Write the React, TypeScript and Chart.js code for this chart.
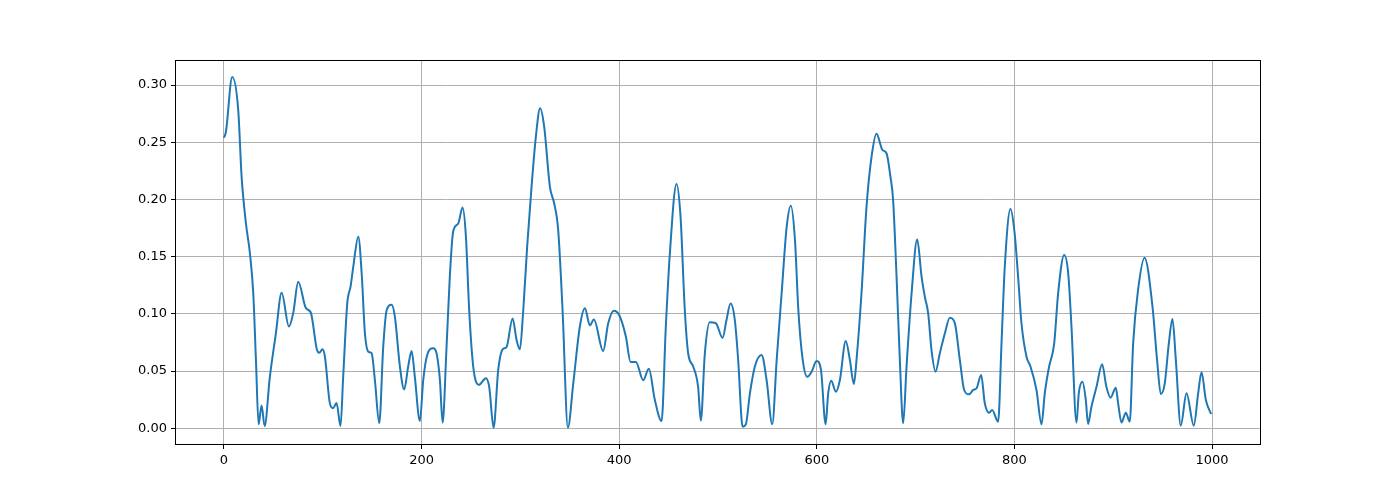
import React, { useEffect, useRef } from "react";
import { Chart, registerables } from "chart.js";

Chart.register(...registerables);

const xValues = [
  0, 2, 8.4, 14.5, 17.9, 22.3, 26.3, 29.7, 32.4, 35.1, 38.1, 41.2, 46.5, 52.6, 58.4, 65.8, 70.1, 75.2, 83, 88,
  94, 96.5, 99.8, 102.2, 107.2, 110.5, 114, 118, 120.7, 124.8, 128.2, 130.9, 136, 139.4, 142.7, 146.1, 149.5, 152.8, 157.2, 161.2,
  164.6, 169.7, 173, 178.1, 182.4, 186.5, 189.9, 193.2, 198.3, 201.7, 205.7, 211.8, 215.2, 218.6, 221.3, 225.3, 228.6, 232, 237.1, 241.5,
  244.9, 248.2, 252.3, 258, 265.1, 268.5, 272.9, 277.6, 282, 286, 292.1, 296.2, 299.5, 302.9, 306.9, 311.3, 315.7, 320, 324.1, 329.9,
  334.2, 338.3, 342.7, 348.1, 353.5, 360.2, 365.3, 370.3, 374.4, 383.8, 388.9, 394.6, 400, 406.8, 411.5, 416.9, 424.3, 430, 436.1, 442.9,
  447.2, 451.3, 458, 462.1, 466.4, 469.8, 474.9, 479.9, 482.6, 486.7, 491.7, 497.8, 504.6, 508.6, 512.7, 517, 520.4, 524.9, 528.2, 532.3,
  537.3, 544.1, 549.2, 554.9, 559.4, 564.4, 569.5, 573.7, 577.9, 581.3, 585.7, 590.4, 594.8, 599.7, 604.2, 608.9, 611.5, 614.6, 619.3, 623.3,
  629.3, 633.4, 637.5, 640.2, 645.2, 650.3, 655.4, 660.4, 666.4, 670.5, 674.5, 677.2, 680.7, 684, 687.4, 690.8, 695.9, 701.6, 706, 709.3,
  712.7, 716.1, 720.1, 724.5, 729.6, 734.6, 739.7, 744.7, 749.1, 753.9, 758.3, 761.7, 766.3, 770, 774.4, 777.4, 783.5, 786.9, 790.2, 796,
  800, 803.7, 807.1, 812.2, 816.2, 822.3, 827.4, 830.7, 835.1, 840.2, 844.2, 850.3, 854.4, 857.7, 862.8, 865.1, 868.8, 872.2, 874.5, 877.9,
  883, 888.7, 893.1, 897.2, 902.6, 904.9, 908.3, 912.7, 916.7, 920.1, 925.1, 931.7, 939.7, 944.3, 948.1, 952.1, 956.2, 959.9, 963.3, 968.3,
  974.1, 981.5, 985.9, 989.3, 993.7, 999,
];

const yValues = [
  0.254, 0.259, 0.307, 0.278, 0.22, 0.179, 0.153, 0.118, 0.06, 0.0035, 0.02, 0.002, 0.045, 0.083, 0.1185, 0.089, 0.1005, 0.128, 0.105, 0.101,
  0.069, 0.066, 0.069, 0.0626, 0.022, 0.0175, 0.022, 0.002, 0.045, 0.109, 0.124, 0.141, 0.1675, 0.1355, 0.083, 0.067, 0.0655, 0.042, 0.0044, 0.071,
  0.103, 0.108, 0.0976, 0.054, 0.034, 0.054, 0.0676, 0.045, 0.0064, 0.042, 0.064, 0.07, 0.0655, 0.042, 0.005, 0.071, 0.1325, 0.172, 0.179, 0.193,
  0.1675, 0.1034, 0.054, 0.038, 0.0437, 0.036, 0.0005, 0.051, 0.069, 0.071, 0.096, 0.077, 0.069, 0.103, 0.159, 0.211, 0.255, 0.2797, 0.2636, 0.211,
  0.1967, 0.173, 0.1034, 0.0005, 0.039, 0.089, 0.105, 0.09, 0.095, 0.0676, 0.0918, 0.1028, 0.099, 0.08, 0.058, 0.058, 0.042, 0.052, 0.0247, 0.0064,
  0.089, 0.153, 0.2136, 0.185, 0.1034, 0.0656, 0.054, 0.036, 0.0066, 0.0656, 0.0926, 0.0918, 0.079, 0.0947, 0.109, 0.0947, 0.06, 0.0014, 0.0035, 0.0306,
  0.054, 0.064, 0.042, 0.0035, 0.06, 0.118, 0.176, 0.1946, 0.1646, 0.1034, 0.06, 0.045, 0.0495, 0.0588, 0.051, 0.0035, 0.0306, 0.0416, 0.032, 0.042,
  0.0763, 0.06, 0.0387, 0.06, 0.118, 0.1937, 0.2374, 0.2575, 0.2433, 0.2404, 0.22, 0.1996, 0.1325, 0.06, 0.0044, 0.054, 0.118, 0.165, 0.1325, 0.115,
  0.1005, 0.068, 0.0495, 0.0656, 0.083, 0.0967, 0.0918, 0.06, 0.0335, 0.0297, 0.0335, 0.035, 0.0466, 0.0219, 0.0136, 0.016, 0.0058, 0.074, 0.141, 0.1917,
  0.172, 0.1325, 0.0918, 0.0626, 0.054, 0.0335, 0.0035, 0.0306, 0.054, 0.074, 0.118, 0.1515, 0.1355, 0.089, 0.005, 0.0306, 0.0407, 0.0247, 0.0038, 0.0189,
  0.036, 0.056, 0.036, 0.0268, 0.0355, 0.022, 0.005, 0.0136, 0.0058, 0.074, 0.121, 0.149, 0.1063, 0.06, 0.03, 0.0393, 0.074, 0.0955, 0.06, 0.0023,
  0.0306, 0.0023, 0.0306, 0.049, 0.0247, 0.0125,
];

const xTicks = [0, 200, 400, 600, 800, 1000];
const yTicks = [0, 0.05, 0.1, 0.15, 0.2, 0.25, 0.3];

export default function App() {
  const ref = useRef<HTMLCanvasElement>(null);

  useEffect(() => {
    document.body.style.margin = "0";
    const frame = {
      id: "frame",
      afterDraw(chart: any) {
        const { ctx, chartArea } = chart;
        ctx.save();
        ctx.strokeStyle = "#000";
        ctx.lineWidth = 1;
        ctx.strokeRect(
          Math.round(chartArea.left) + 0.5,
          Math.round(chartArea.top) + 0.5,
          Math.round(chartArea.right - chartArea.left) - 1,
          Math.round(chartArea.bottom - chartArea.top) - 1
        );
        ctx.restore();
      },
    };
    const font = { family: "DejaVu Sans", size: 13 };
    const chart = new Chart(ref.current as HTMLCanvasElement, {
      type: "line",
      data: {
        datasets: [
          {
            data: xValues.map((x, i) => ({ x, y: yValues[i] })),
            borderColor: "#1f77b4",
            borderWidth: 2,
            pointRadius: 0,
            cubicInterpolationMode: "monotone",
            fill: false,
          },
        ],
      },
      options: {
        animation: false,
        responsive: false,
        layout: { padding: { left: 0, top: 60, right: 139, bottom: 0 } },
        plugins: { legend: { display: false }, tooltip: { enabled: false } },
        scales: {
          x: {
            type: "linear",
            min: -49.5,
            max: 1049.5,
            afterBuildTicks: (s: any) => {
              s.ticks = xTicks.map((v) => ({ value: v }));
            },
            afterFit: (s: any) => {
              s.height = 55;
            },
            grid: { color: "#b0b0b0", lineWidth: 1, tickColor: "#000", tickLength: 4 },
            border: { display: false },
            ticks: {
              color: "#000",
              font,
              padding: 4,
              maxRotation: 0,
              autoSkip: false,
              callback: (v: any) => String(v),
            },
          },
          y: {
            type: "linear",
            min: -0.0146,
            max: 0.3219,
            afterBuildTicks: (s: any) => {
              s.ticks = yTicks.map((v) => ({ value: v }));
            },
            afterFit: (s: any) => {
              s.width = 175;
            },
            grid: { color: "#b0b0b0", lineWidth: 1, tickColor: "#000", tickLength: 4 },
            border: { display: false },
            ticks: {
              color: "#000",
              font,
              padding: 4,
              autoSkip: false,
              callback: (v: any) => Number(v).toFixed(2),
            },
          },
        },
      },
      plugins: [frame],
    } as any);
    return () => chart.destroy();
  }, []);

  return <canvas ref={ref} width={1400} height={500} style={{ display: "block" }} />;
}
